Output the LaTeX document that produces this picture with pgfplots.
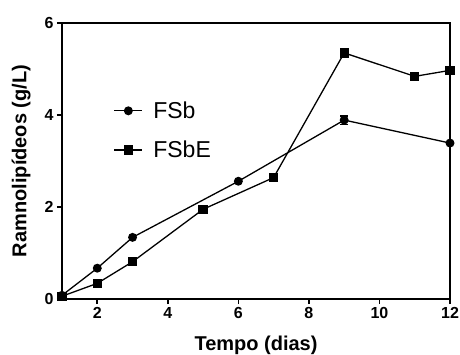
\documentclass[border=0pt]{standalone}
\usepackage{pgfplots}
\pgfplotsset{compat=1.18}
\usepackage{fontspec}
\setmainfont{Liberation Sans}
\begin{document}
\begin{tikzpicture}[x=1pt,y=1pt]
\useasboundingbox (0,0) rectangle (460,354);
\begin{axis}[
  at={(62pt,55pt)}, anchor=south west,
  scale only axis, width=388pt, height=276pt,
  xmin=1, xmax=12, ymin=0, ymax=6,
  axis lines=box,
  xtick={2,4,6,8,10,12}, ytick={0,2,4,6},
  tick align=outside, xtick pos=bottom, ytick pos=left,
  major tick length=5pt,
  axis line style={line width=1.6pt, draw=black},
  every tick/.style={line width=1.6pt,black},
  tick label style={font=\fontsize{16}{16}\selectfont\bfseries},
  /pgf/number format/assume math mode=true,
  xlabel={\fontsize{20}{20}\selectfont\bfseries Tempo (dias)},
  ylabel={\fontsize{20}{20}\selectfont\bfseries Ramnolipídeos (g/L)},
  xlabel style={yshift=-10pt},
  ylabel style={yshift=7pt},
  clip=false,
  legend style={at={(0.125,0.73)}, anchor=north west, draw=none, fill=none,
    font=\fontsize{23}{23}\selectfont, row sep=17pt},
  legend cell align=left,
  legend image code/.code={\path[draw=none] (0pt,0pt) -- (37pt,0pt); \draw[#1] (0pt,0pt) -- (28pt,0pt); \draw[#1,mark repeat=2,mark phase=2] plot coordinates {(0pt,0pt) (14pt,0pt) (28pt,0pt)};},
]
\addplot[black, line width=1.3pt, mark=*, mark size=3.8pt,
  error bars/.cd, y dir=both, y explicit, error bar style={line width=1.3pt}, error mark options={rotate=90, mark size=4pt, line width=1.3pt}]
  coordinates {(1,0.08) +- (0,0) (2,0.67) +- (0,0) (3,1.34) +- (0,0) (6,2.56) +- (0,0) (9,3.89) +- (0,0.09) (12,3.39) +- (0,0)};
\addlegendentry{FSb}
\addplot[black, line width=1.3pt, mark=square*, mark size=4pt]
  coordinates {(1,0.06) (2,0.34) (3,0.81) (5,1.95) (7,2.64) (9,5.35) (11,4.84) (12,4.97)};
\addlegendentry{FSbE}
\draw[line width=1.6pt, black] (rel axis cs:0,1) -- (rel axis cs:1,1) -- (rel axis cs:1,0);
\end{axis}
\end{tikzpicture}
\end{document}
